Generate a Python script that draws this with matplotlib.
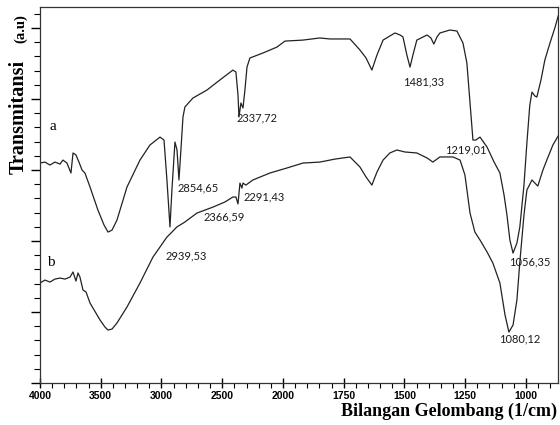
import numpy as np
import matplotlib
matplotlib.use("Agg")
import matplotlib.pyplot as plt
from matplotlib.ticker import FixedLocator, NullFormatter

# FTIR spectra (wavenumber in 1/cm, transmittance a.u.)
wn_a = [4000, 3959, 3918, 3877, 3835, 3811, 3778, 3745, 3728, 3704, 3679, 3654,
        3630, 3588, 3523, 3473, 3440, 3407, 3366, 3284, 3177, 3095, 3012, 2979,
        2955, 2930, 2914, 2889, 2872, 2856, 2840, 2823, 2807, 2741, 2626, 2519,
        2412, 2387, 2370, 2362, 2346, 2329, 2313, 2296, 2272, 2165, 2049, 1992,
        1918, 1848, 1807, 1724, 1683, 1658, 1634, 1613, 1588, 1560, 1539, 1518,
        1506, 1490, 1477, 1465, 1449, 1407, 1391, 1379, 1366, 1354, 1313, 1284,
        1259, 1243, 1230, 1218, 1206, 1189, 1160, 1131, 1107, 1090, 1078, 1066,
        1053, 1037, 1025, 1008, 996, 984, 975, 963, 955, 938, 922, 901, 881, 860]
tr_a = [15.49, 15.56, 15.35, 15.56, 15.42, 15.70, 15.49, 14.79, 16.20, 16.06, 15.56, 15.00,
        14.79, 13.80, 12.18, 11.13, 10.63, 10.77, 11.48, 13.80, 15.70, 16.76, 17.32, 17.11,
        14.30, 10.99, 13.59, 16.97, 16.41, 14.30, 16.41, 18.73, 19.44, 20.07, 20.63, 21.34,
        22.04, 21.90, 20.28, 18.73, 19.72, 19.37, 20.63, 22.25, 22.89, 23.24, 23.66, 24.08,
        24.15, 24.30, 24.23, 24.23, 23.45, 22.89, 22.04, 23.10, 24.15, 24.44, 24.65, 24.51,
        24.37, 23.10, 22.25, 23.10, 24.15, 24.51, 24.30, 23.87, 24.37, 24.65, 24.86, 24.79,
        23.94, 22.54, 19.72, 17.11, 17.11, 17.32, 16.62, 15.56, 14.79, 13.24, 11.83, 10.07,
        9.15, 9.86, 10.99, 13.94, 16.90, 19.58, 20.49, 20.21, 20.14, 21.34, 22.75, 23.94, 25.00, 26.27]

wn_b = [4000, 3959, 3918, 3877, 3835, 3794, 3753, 3728, 3704, 3687, 3671, 3646,
        3621, 3588, 3506, 3465, 3440, 3407, 3366, 3284, 3177, 3070, 2955, 2914,
        2873, 2807, 2708, 2576, 2477, 2412, 2387, 2370, 2354, 2338, 2329, 2305,
        2247, 2107, 1984, 1918, 1848, 1786, 1724, 1683, 1658, 1634, 1613, 1588,
        1560, 1531, 1498, 1449, 1407, 1383, 1354, 1300, 1271, 1251, 1230, 1210,
        1189, 1160, 1136, 1107, 1086, 1070, 1053, 1037, 1025, 1008, 996, 975,
        963, 951, 930, 914, 889, 860]
tr_b = [7.04, 7.25, 7.11, 7.32, 7.39, 7.32, 7.46, 7.82, 7.18, 7.75, 7.46, 6.55,
        6.41, 5.63, 4.44, 3.94, 3.73, 3.80, 4.23, 5.35, 7.04, 8.87, 10.28, 10.63,
        10.99, 11.34, 11.97, 12.39, 12.75, 13.10, 13.10, 12.61, 14.08, 13.73, 14.08, 13.94,
        14.30, 14.79, 15.14, 15.49, 15.56, 15.77, 15.92, 15.21, 14.51, 13.94, 14.86, 15.70,
        16.20, 16.41, 16.27, 16.20, 15.85, 15.56, 15.92, 15.92, 15.70, 14.65, 11.97, 10.63,
        10.07, 9.23, 8.45, 7.04, 4.79, 3.59, 4.08, 5.85, 8.52, 11.83, 13.59, 14.30,
        14.08, 13.87, 15.00, 15.70, 16.76, 17.61]

peak_labels = ["2854,65", "2337,72", "2291,43", "2366,59", "2939,53",
               "1481,33", "1219,01", "1056,35", "1080,12"]
peak_x = [2700, 2214, 2156, 2486, 2798, 1420, 1247, 984, 1025]
peak_y = [13.73, 18.66, 13.10, 11.69, 8.94, 21.20, 16.41, 8.52, 3.10]

major_x = [4000, 3500, 3000, 2500, 2000, 1750, 1500, 1250, 1000]


def fwd(w):
    w = np.asarray(w, dtype=float)
    return np.where(w >= 2000, w, 2000 + (w - 2000) * 2)


def inv(u):
    u = np.asarray(u, dtype=float)
    return np.where(u >= 2000, u, 2000 + (u - 2000) / 2)


fig = plt.figure(figsize=(5.6, 4.25), dpi=100)
ax = fig.add_axes([0.0714, 0.0988, 0.925, 0.8847])
ax.set_xscale("function", functions=(fwd, inv))

line_kw = dict(color="#222222", lw=0.9)
ax.plot(wn_a, tr_a, **line_kw)
ax.plot(wn_b, tr_b, **line_kw)

for lab, x, y in zip(peak_labels, peak_x, peak_y):
    ax.text(x, y, lab, ha="center", va="center", fontsize=8,
            family="Lato", color="#1a1a1a")

ax.text(3893, 18.03, "a", ha="center", va="center", fontsize=11, family="Liberation Serif")
ax.text(3909, 8.52, "b", ha="center", va="center", fontsize=11, family="Liberation Serif")

ax.set_xlim(4000, 868)
ax.set_ylim(0, 26.48)

minor_x = list(range(3900, 2000, -100)) + list(range(1950, 850, -50))
minor_x = [m for m in minor_x if m not in major_x]
ax.xaxis.set_major_locator(FixedLocator(major_x))
ax.xaxis.set_minor_locator(FixedLocator(minor_x))
ax.xaxis.set_minor_formatter(NullFormatter())
ax.set_xticklabels([str(v) for v in major_x], family="Liberation Sans",
                   fontsize=7.5, fontweight="bold")

ax.yaxis.set_major_locator(FixedLocator([0, 5, 10, 15, 20, 25]))
ax.yaxis.set_minor_locator(FixedLocator([v for v in range(1, 27) if v % 5]))
ax.set_yticklabels([])

ax.tick_params(axis="x", which="major", direction="inout", length=7, width=1, pad=2)
ax.tick_params(axis="x", which="minor", direction="out", length=3.5, width=0.8)
ax.tick_params(axis="y", which="major", direction="out", length=6.5, width=1)
ax.tick_params(axis="y", which="minor", direction="out", length=4, width=0.8)

for sp in ax.spines.values():
    sp.set_linewidth(0.9)
    sp.set_color("#333333")

fig.text(0.033, 0.725, "Transmitansi", rotation=90, ha="center", va="center",
         fontsize=14.5, fontweight="bold", family="Liberation Serif")
fig.text(0.037, 0.932, "(a.u)", rotation=90, ha="center", va="center",
         fontsize=10.5, fontweight="bold", family="Liberation Serif")
fig.text(0.995, 0.031, "Bilangan Gelombang (1/cm)", ha="right", va="center",
         fontsize=13, fontweight="bold", family="Liberation Serif")

fig.savefig("out.png", dpi=100)
